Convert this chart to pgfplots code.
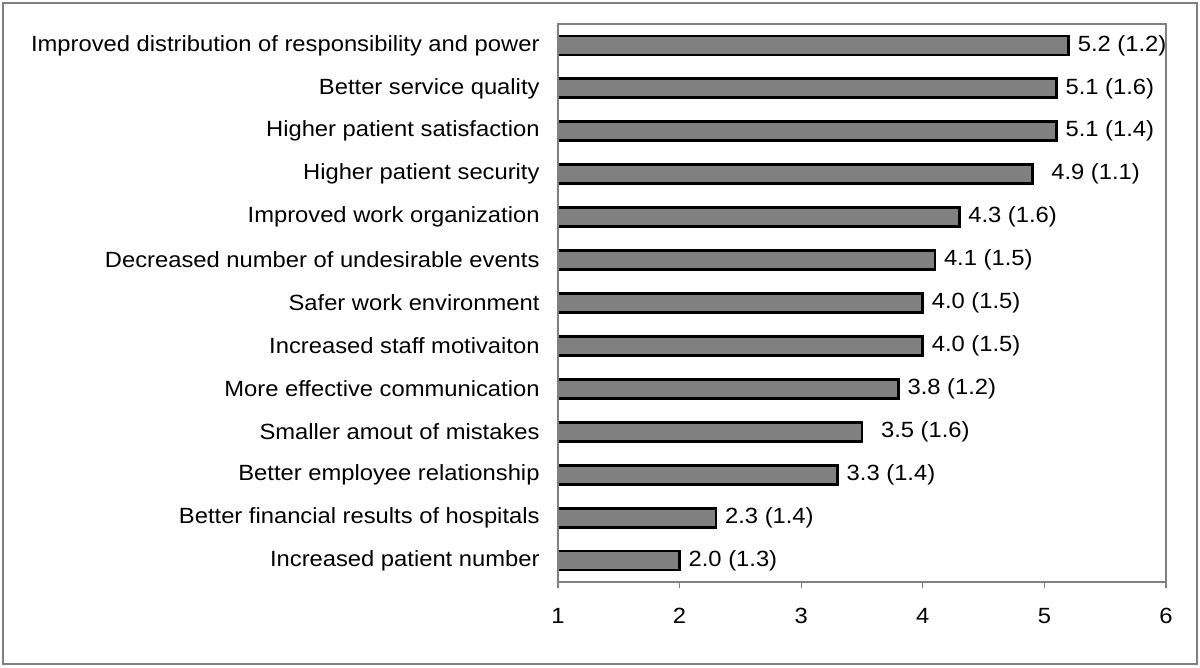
\documentclass[border=0pt]{standalone}
\usepackage{pgfplots}
\pgfplotsset{compat=1.18}
\usetikzlibrary{calc}
\usepackage{fontspec}
\setmainfont{Liberation Sans}[FakeStretch=1.08]
\definecolor{barfill}{HTML}{808080}
\definecolor{axgray}{HTML}{808080}
\begin{document}
\begin{tikzpicture}
\begin{axis}[
  name=ax,
  scale only axis,
  width=304pt, height=279pt,
  xbar,
  bar width=9.5pt,
  xmin=1, xmax=6,
  ymin=-0.5, ymax=12.5,
  xtick={1,2,3,4,5,6},
  ytick={0,...,12},
  yticklabels={Increased patient number,Better financial results of hospitals,Better employee relationship,Smaller amout of mistakes,More effective communication,Increased staff motivaiton,Safer work environment,Decreased number of undesirable events,Improved work organization,Higher patient security,Higher patient satisfaction,Better service quality,Improved distribution of responsibility and power},
  minor ytick={-0.5,0.5,...,12.5},
  xtick pos=lower, ytick pos=left,
  tick align=outside,
  major tick length=3pt,
  minor tick length=3pt,
  ytick style={draw=none},
  minor tick style={draw=axgray, line width=0.6pt},
  xtick style={draw=axgray, line width=0.6pt},
  axis line style={draw=none},
  tick label style={font=\fontsize{11}{13}\selectfont, text=black},
  /pgf/number format/assume math mode=true,
  y tick label style={xshift=-2.7pt},
  x tick label style={yshift=-6.5pt},
  point meta=explicit symbolic,
  nodes near coords,
  every node near coord/.append style={font=\fontsize{11}{13}\selectfont, anchor=west, xshift=0.5pt, text=black},
]
\addplot[fill=barfill, draw=black, line width=1.4pt] coordinates {
  (2.0,0) [2.0 (1.3)]
  (2.3,1) [2.3 (1.4)]
  (3.3,2) [3.3 (1.4)]
  (3.5,3) [\hspace{5pt}3.5 (1.6)]
  (3.8,4) [3.8 (1.2)]
  (4.0,5) [4.0 (1.5)]
  (4.0,6) [4.0 (1.5)]
  (4.1,7) [4.1 (1.5)]
  (4.3,8) [4.3 (1.6)]
  (4.9,9) [\hspace{5pt}4.9 (1.1)]
  (5.1,10) [5.1 (1.4)]
  (5.1,11) [5.1 (1.6)]
  (5.2,12) [5.2 (1.2)]
};
\end{axis}
\draw[draw=axgray, line width=1.3pt] (ax.south west) -- (ax.south east) -- (ax.north east) -- (ax.north west) -- cycle;
\pgfresetboundingbox
\path ($(ax.south west)+(-279pt,-42.5pt)$) coordinate (BL) ($(ax.north east)+(17pt,12pt)$) coordinate (TR);
\useasboundingbox (BL) rectangle (TR);
\draw[draw=axgray, line width=0.8pt] ($(BL)+(1.5pt,1.5pt)$) rectangle ($(TR)+(-1.5pt,-1.5pt)$);
\end{tikzpicture}
\end{document}
